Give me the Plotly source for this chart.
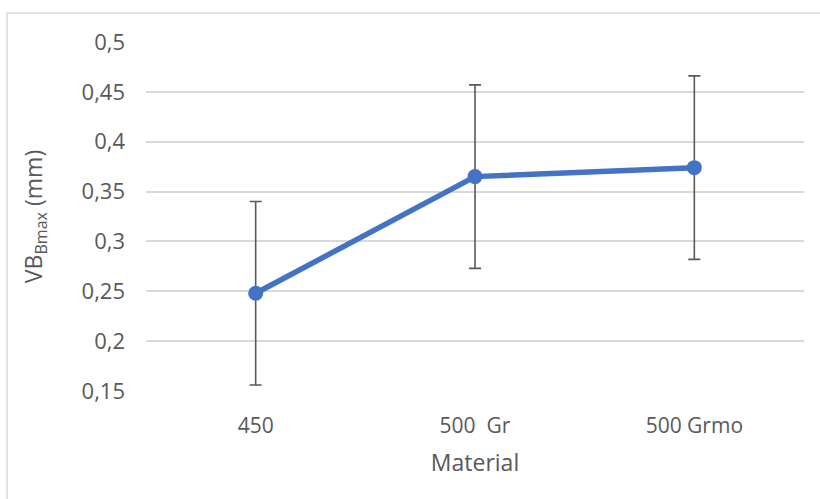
import plotly.graph_objects as go

# Flank wear per material
materials = ["450", "500  Gr", "500 Grmo"]
vb_bmax = [0.248, 0.365, 0.374]
vb_err = [0.092, 0.092, 0.092]

y_ticks = [0.15, 0.2, 0.25, 0.3, 0.35, 0.4, 0.45, 0.5]

text_color = "#595959"
font_family = "Open Sans"

fig = go.Figure()
fig.add_trace(go.Scatter(
    x=materials,
    y=vb_bmax,
    mode="lines+markers",
    line=dict(color="#4472C4", width=5.5),
    marker=dict(color="#4472C4", size=15),
    error_y=dict(type="data", array=vb_err, visible=True,
                 color="#595959", thickness=1.6, width=6),
    showlegend=False,
))

fig.update_layout(
    width=820,
    height=499,
    margin=dict(l=146, r=16, t=42, b=108),
    paper_bgcolor="white",
    plot_bgcolor="white",
    separators=",.",
    font=dict(family=font_family, color=text_color, size=20),
    xaxis=dict(
        type="category",
        range=[-0.5, 2.5],
        showgrid=False,
        showline=False,
        zeroline=False,
        ticks="",
        tickfont=dict(size=21, color=text_color),
        ticklabelstandoff=20,
        title=dict(text="Material", font=dict(size=23, color=text_color), standoff=16),
    ),
    yaxis=dict(
        range=[0.15, 0.5],
        tickvals=y_ticks,
        showgrid=True,
        gridcolor="#d9d9d9",
        gridwidth=1.5,
        zeroline=False,
        showline=False,
        ticks="",
        tickfont=dict(size=22, color=text_color),
        ticklabelstandoff=20,
        title=dict(text="VB<sub>Bmax</sub> (mm)", font=dict(size=23, color=text_color), standoff=32),
    ),
    shapes=[
        dict(type="line", xref="paper", yref="paper",
             x0=-0.2112, x1=1.03, y0=1.0831, y1=1.0831,
             line=dict(color="#d9d9d9", width=1.5)),
        dict(type="line", xref="paper", yref="paper",
             x0=-0.2112, x1=-0.2112, y0=1.0831, y1=-0.32,
             line=dict(color="#d9d9d9", width=1.5)),
    ],
)

fig.write_html("out.html")
